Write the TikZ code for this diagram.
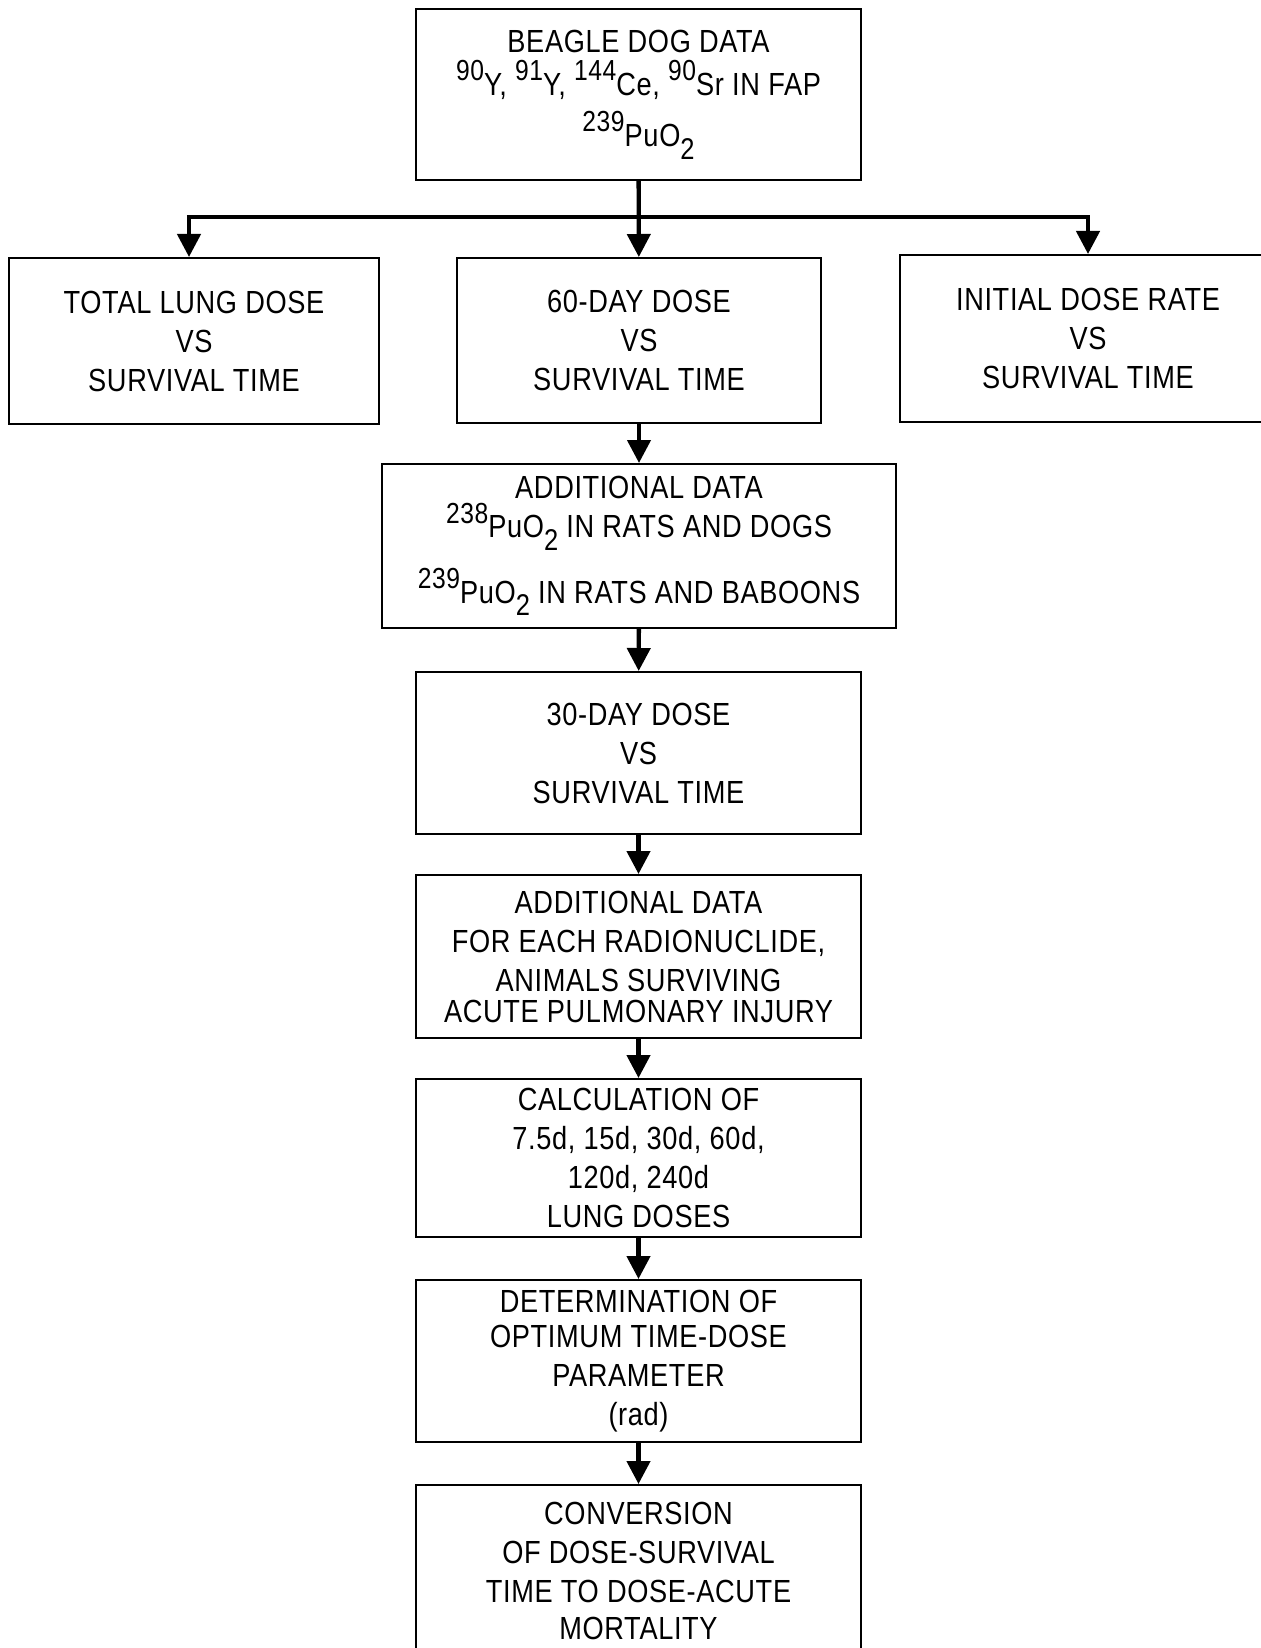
\documentclass[tikz,border=0pt]{standalone}
\usepackage{fontspec}
\setmainfont{Liberation Sans}[FakeStretch=0.85,LetterSpace=2]
\usetikzlibrary{arrows.meta}
\newcommand{\iso}[1]{\raisebox{0.45em}{\fontsize{14.5}{14.5}\selectfont #1}}
\newcommand{\low}[1]{\raisebox{-0.4em}{\fontsize{15}{15}\selectfont #1}}

\begin{document}
\begin{tikzpicture}[x=0.5pt, y=-0.5pt,
    box/.style={draw, line width=1pt, align=center, inner sep=0pt, font=\fontsize{16}{19.5}\selectfont},
    arr/.style={-{Triangle[width=11.5pt,length=11.5pt]}, line width=2.2pt},
    bar/.style={line width=2.2pt}
]
    \useasboundingbox (0,0) rectangle (1261,1648);
    \clip (0,0) rectangle (1261,1648);

    \node[box, minimum width=222.5pt, minimum height=85.5pt] (beagle) at (638.5,94.5) {BEAGLE DOG DATA\\[2pt]\iso{90}Y, \iso{91}Y, \iso{144}Ce, \iso{90}Sr IN FAP\\[6pt]\iso{239}PuO\low{2}};

    \node[box, minimum width=185pt, minimum height=83pt] (lung) at (194,341) {TOTAL LUNG DOSE\\VS\\SURVIVAL TIME};
    \node[box, minimum width=182pt, minimum height=82.5pt] (sixty) at (639,340.5) {60-DAY DOSE\\VS\\SURVIVAL TIME};
    \node[box, minimum width=188pt, minimum height=83.5pt] (rate) at (1088,338.5) {INITIAL DOSE RATE\\VS\\SURVIVAL TIME};

    \node[box, minimum width=257pt, minimum height=82pt] (pu) at (639,546) {ADDITIONAL DATA\\\iso{238}PuO\low{2} IN RATS AND DOGS\\[8pt]\iso{239}PuO\low{2} IN RATS AND BABOONS};
    \node[box, minimum width=222.5pt, minimum height=81pt] (thirty) at (638.5,753) {30-DAY DOSE\\VS\\SURVIVAL TIME};
    \node[box, minimum width=222.5pt, minimum height=81.5pt] (survivors) at (638.5,956.5) {ADDITIONAL DATA\\FOR EACH RADIONUCLIDE,\\ANIMALS SURVIVING\\[-4pt]ACUTE PULMONARY INJURY};
    \node[box, minimum width=222.5pt, minimum height=79pt] (calc) at (638.5,1158) {CALCULATION OF\\7.5d, 15d, 30d, 60d,\\120d, 240d\\LUNG DOSES};
    \node[box, minimum width=222.5pt, minimum height=81pt] (opt) at (638.5,1361) {DETERMINATION OF\\[-2pt]OPTIMUM TIME-DOSE\\PARAMETER\\(rad)};
    \node[box, minimum width=222.5pt, minimum height=85.5pt] (mort) at (638.5,1570.5) {CONVERSION\\OF DOSE-SURVIVAL\\TIME TO DOSE-ACUTE\\[-1pt]MORTALITY};

    % split above the three plots
    \coordinate (splitL) at (189,217);
    \coordinate (splitR) at (1088,217);
    \draw[bar] ([xshift=-1.1pt]splitL) -- ([xshift=1.1pt]splitR);
    \draw[arr] (beagle) -- (sixty);
    \draw[arr] (splitL) -- (splitL |- lung.north);
    \draw[arr] (splitR) -- (rate);

    \draw[arr] (sixty) -- (pu);
    \draw[arr] (pu) -- (thirty);
    \draw[arr] (thirty) -- (survivors);
    \draw[arr] (survivors) -- (calc);
    \draw[arr] (calc) -- (opt);
    \draw[arr] (opt) -- (mort);
\end{tikzpicture}
\end{document}
